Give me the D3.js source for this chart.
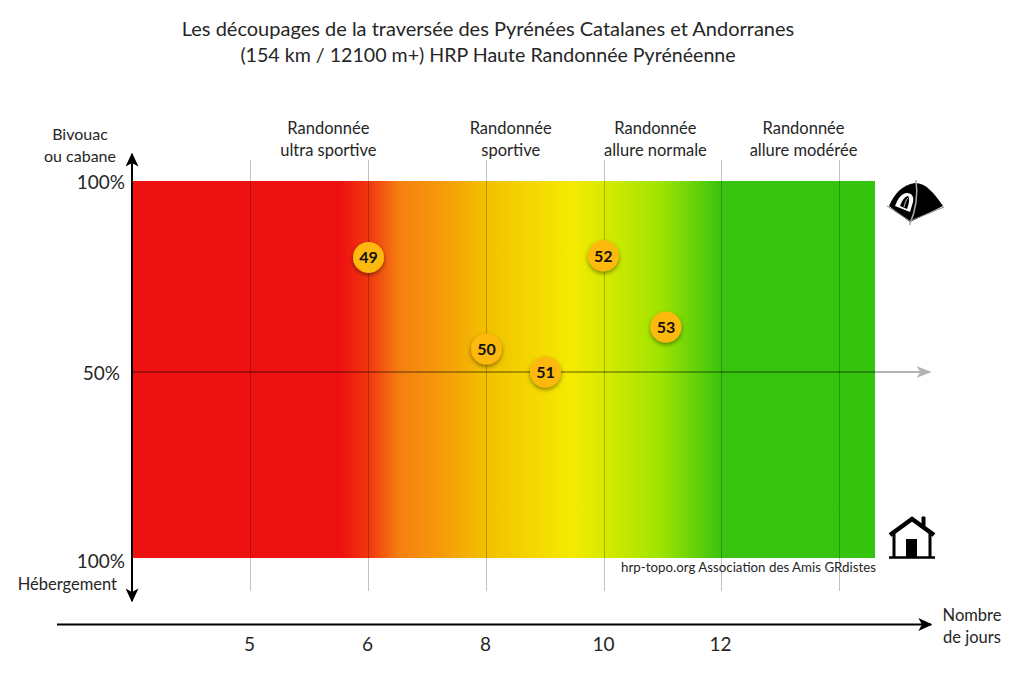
<!DOCTYPE html>
<html lang="fr">
<head>
<meta charset="utf-8">
<title>HRP Pyrénées Catalanes et Andorranes</title>
<script src="https://d3js.org/d3.v7.min.js"></script>
<style>
  body { margin: 0; background: #fff; }
  svg { display: block; }
  text { font-family: Lato, "Open Sans", sans-serif; fill: #262626; }
  .axis path, .axis line { display: none; }
</style>
</head>
<body>
<script>
// Data
var dayTicks = [5, 6, 8, 10, 12, 14];
var dayLabels = ["5", "6", "8", "10", "12", ""];
var shareTicks = [100, 50, 0];
var shareLabels = ["100%", "50%", "100%"];
var stageIds = [49, 50, 51, 52, 53];
var stageDays = [6, 8, 9, 9.98, 11.05];
var stageBivouac = [80, 56, 50, 80.4, 61.8];
var paceFirst = ["Randonnée", "Randonnée", "Randonnée", "Randonnée"];
var paceSecond = ["ultra sportive", "sportive", "allure normale", "allure modérée"];
var paceDays = [5.66, 8.41, 10.87, 13.39];
var titleLines = ["Les découpages de la traversée des Pyrénées Catalanes et Andorranes",
                  "(154 km / 12100 m+) HRP Haute Randonnée Pyrénéenne"];
var gradOffsets = [0, 0.28, 0.318, 0.36, 0.415, 0.476, 0.59, 0.635, 0.71, 0.794, 1];
var gradColors = ["#ee1111", "#ee1111", "#f1360f", "#f5800f", "#f59a0a", "#f2c000", "#f5ea00", "#d8ea00", "#a0e400", "#38c40e", "#35c40e"];

var w = 1024, h = 685;
var svg = d3.select("body").append("svg").attr("width", w).attr("height", h);

// the day axis is not linear: each tick is evenly spaced
var x = d3.scaleLinear().domain(dayTicks).range([250.5, 368.5, 486.5, 604.5, 721.5, 839.5]);
var y = d3.scaleLinear().domain([0, 50, 100]).range([558, 372, 181]);

var defs = svg.append("defs");
var grad = defs.append("linearGradient").attr("id", "pace");
grad.selectAll("stop").data(gradOffsets).enter().append("stop")
    .attr("offset", function(d) { return d; })
    .attr("stop-color", function(d, i) { return gradColors[i]; });

var arrow = function(id, color, len, wid) {
  defs.append("marker").attr("id", id).attr("viewBox", "0 0 10 10")
      .attr("refX", 9).attr("refY", 5)
      .attr("markerUnits", "userSpaceOnUse")
      .attr("markerWidth", len).attr("markerHeight", wid).attr("orient", "auto")
      .attr("preserveAspectRatio", "none")
      .append("path").attr("d", "M0,0L10,5L0,10L2.5,5Z").attr("fill", color);
};
arrow("arrowBlack", "#000", 14, 13);
arrow("arrowGrey", "#b4b4b4", 15, 12);

var shadow = defs.append("filter").attr("id", "shadow")
    .attr("x", "-40%").attr("y", "-40%").attr("width", "180%").attr("height", "180%");
shadow.append("feDropShadow").attr("dx", 0).attr("dy", 2).attr("stdDeviation", 2.2)
    .attr("flood-color", "#000").attr("flood-opacity", 0.45);

// title
svg.append("g").selectAll("text").data(titleLines).enter().append("text")
    .attr("x", 488).attr("y", function(d, i) { return 36 + i * 26; })
    .attr("text-anchor", "middle")
    .style("font-size", function(d, i) { return i ? "19.6px" : "20px"; })
    .text(function(d) { return d; });

// background
svg.append("rect").attr("x", 132).attr("y", y(100))
    .attr("width", 875 - 132).attr("height", y(0) - y(100)).attr("fill", "url(#pace)");

// vertical grid lines
svg.append("g").selectAll("line").data(dayTicks).enter().append("line")
    .attr("x1", function(d) { return x(d); }).attr("x2", function(d) { return x(d); })
    .attr("y1", 160).attr("y2", 591)
    .attr("stroke", "#000").attr("stroke-opacity", 0.24).attr("stroke-width", 1);

// 50% line
svg.append("line").attr("x1", 132).attr("x2", 930).attr("y1", y(50)).attr("y2", y(50))
    .attr("stroke", "#000").attr("stroke-opacity", 0.3).attr("stroke-width", 2)
    .attr("marker-end", "url(#arrowGrey)");

// main arrows
svg.append("line").attr("x1", 132).attr("x2", 132).attr("y1", 378).attr("y2", 154)
    .attr("stroke", "#000").attr("stroke-width", 2).attr("marker-end", "url(#arrowBlack)");
svg.append("line").attr("x1", 132).attr("x2", 132).attr("y1", 378).attr("y2", 601)
    .attr("stroke", "#000").attr("stroke-width", 2).attr("marker-end", "url(#arrowBlack)");
svg.append("line").attr("x1", 57).attr("x2", 931).attr("y1", 624.5).attr("y2", 624.5)
    .attr("stroke", "#000").attr("stroke-width", 2).attr("marker-end", "url(#arrowBlack)");

// axis labels
var xAxis = d3.axisBottom(x).tickValues(dayTicks).tickSize(0)
    .tickFormat(function(d, i) { return dayLabels[i]; });
svg.append("g").attr("class", "axis").attr("transform", "translate(-1.5,636)").call(xAxis)
    .selectAll("text").attr("dy", 0).attr("y", 15).style("font-size", "19px").style("font-family", null);

var yAxis = d3.axisLeft(y).tickValues(shareTicks).tickSize(0)
    .tickFormat(function(d, i) { return shareLabels[i]; });
var yLabels = svg.append("g").attr("class", "axis").attr("transform", "translate(125,0)").call(yAxis);
yLabels.selectAll("text").attr("x", 0).attr("dy", "0.35em")
    .attr("y", function(d) { return d === 0 ? 3 : 1; })
    .style("font-size", "19px").style("font-family", null);
yLabels.selectAll(".tick").filter(function(d) { return d === 50; })
    .select("text").attr("x", -5);

// pace labels
var pace = svg.append("g").selectAll("g").data(paceDays).enter().append("g")
    .attr("transform", function(d) { return "translate(" + x(d) + ",0)"; })
    .attr("text-anchor", "middle").style("font-size", "16.5px");
pace.append("text").attr("y", 134).text(function(d, i) { return paceFirst[i]; });
pace.append("text").attr("y", 156).text(function(d, i) { return paceSecond[i]; });

// other notes
var note = function(str, px, py, anchor, size) {
  svg.append("text").attr("x", px).attr("y", py).attr("text-anchor", anchor)
     .style("font-size", size + "px").text(str);
};
note("Bivouac", 80, 140, "middle", 16);
note("ou cabane", 80, 162, "middle", 16);
note("Hébergement", 117, 590, "end", 16.5);
note("Nombre", 972, 621, "middle", 16.5);
note("de jours", 972, 643, "middle", 16.5);
note("hrp-topo.org Association des Amis GRdistes", 876, 572, "end", 13.3);

// stage points
var points = svg.append("g").selectAll("g").data(stageIds).enter().append("g")
    .attr("transform", function(d, i) { return "translate(" + x(stageDays[i]) + "," + y(stageBivouac[i]) + ")"; });
points.append("circle").attr("r", 15.5).attr("fill", "#fdb90e").attr("filter", "url(#shadow)");
points.append("text").attr("text-anchor", "middle").attr("dy", "0.36em")
    .style("font-size", "16px").style("font-weight", "bold").style("fill", "#111")
    .text(function(d) { return d; });

// tent icon
var tent = svg.append("g").attr("transform", "translate(860,160)");
tent.append("path").attr("d", "M29,46 C34,34 42,25 55,23 C66,23 74,33 83,46 L50,62 Z").attr("fill", "#000");
tent.append("path").attr("d", "M35,46 C38,38 42,33 47,33 C52,33 54,37 53,42 L50,52 Z").attr("fill", "#fff");
tent.append("path").attr("d", "M40,46 C42,41 44,37 48,36 C50,38 49,44 47,49 Z").attr("fill", "#000");
tent.append("path").attr("d", "M44,47 C45,43 46,40 48,38").attr("fill", "none").attr("stroke", "#ccc").attr("stroke-width", 1);
tent.append("path").attr("d", "M56,20 C58,34 56,50 49.5,65").attr("fill", "none").attr("stroke", "#aaa").attr("stroke-width", 1.5);
tent.append("path").attr("d", "M27,46 L50,61 L84,47").attr("fill", "none").attr("stroke", "#888").attr("stroke-width", 1);

// house icon
var house = svg.append("g").attr("transform", "translate(860,500)");
house.append("path").attr("d", "M30,35 L52,19 L74,35").attr("fill", "none").attr("stroke", "#000").attr("stroke-width", 4.5);
house.append("path").attr("d", "M62,24 L62,17 L65,17 L65,26 Z").attr("fill", "#000").attr("stroke", "#000");
house.append("path").attr("d", "M34,33 L34,57 M70,33 L70,57").attr("fill", "none").attr("stroke", "#000").attr("stroke-width", 3);
house.append("path").attr("d", "M29,57.5 L75,57.5").attr("fill", "none").attr("stroke", "#000").attr("stroke-width", 2.5);
house.append("rect").attr("x", 46).attr("y", 39).attr("width", 11).attr("height", 18).attr("fill", "#000");
</script>
</body>
</html>
